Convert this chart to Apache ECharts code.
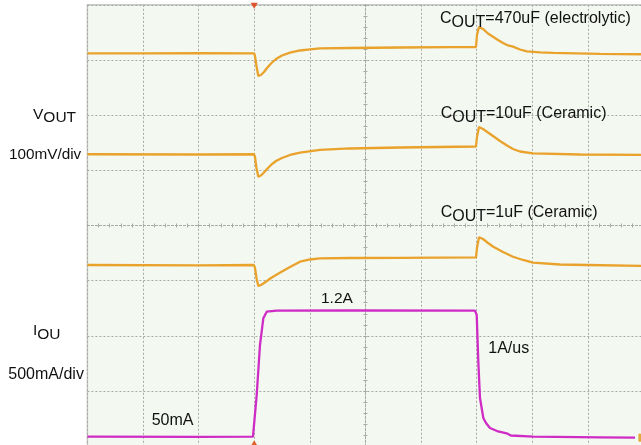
<!DOCTYPE html>
<html><head><meta charset="utf-8">
<script src="https://cdn.jsdelivr.net/npm/echarts/dist/echarts.min.js"></script>
<style>html,body{margin:0;padding:0;background:#fff}#c{width:641px;height:445px}</style>
</head><body><div id="c"></div>
<script>
// Scope screen: time and amplitude in divisions, centre of screen = (0, 0)
const xRange = [-5, 5];
const yRange = [-4, 4];
const triggerTime = -2.0;

// VOUT, COUT = 470uF (electrolytic)
const t470 = [-5.0,-4.05,-2.98,-2.0,-1.986,-1.959,-1.926,-1.878,-1.824,-1.770,-1.698,-1.608,-1.500,-1.356,-1.176,-0.996,-0.817,-0.277,0.622,1.522,1.989,2.007,2.043,2.115,2.205,2.295,2.385,2.475,2.565,2.655,2.781,2.906,3.140,3.374,4.219,5.0];
const v470 = [3.121,3.118,3.123,3.121,3.072,2.891,2.710,2.728,2.782,2.855,2.936,3.018,3.081,3.132,3.172,3.194,3.212,3.217,3.226,3.232,3.235,3.453,3.598,3.562,3.480,3.422,3.362,3.308,3.263,3.241,3.190,3.154,3.136,3.127,3.112,3.103];

// VOUT, COUT = 10uF (Ceramic)
const t10 = [-5.0,-2.975,-2.004,-1.986,-1.959,-1.926,-1.878,-1.824,-1.770,-1.698,-1.608,-1.500,-1.356,-1.176,-0.817,-0.277,0.622,1.989,2.007,2.043,2.115,2.205,2.295,2.421,2.547,2.655,2.781,3.014,3.860,5.0];
const v10 = [1.291,1.287,1.291,1.242,1.042,0.885,0.906,0.961,1.024,1.097,1.169,1.223,1.278,1.320,1.369,1.396,1.414,1.432,1.604,1.785,1.749,1.686,1.622,1.532,1.450,1.387,1.341,1.309,1.287,1.278];

// VOUT, COUT = 1uF (Ceramic)
const t1 = [-5.0,-2.975,-2.004,-1.986,-1.959,-1.926,-1.878,-1.824,-1.770,-1.698,-1.608,-1.500,-1.356,-1.176,-0.996,-0.817,-0.277,0.622,1.989,2.007,2.043,2.115,2.205,2.300,2.475,2.655,2.835,3.014,3.500,3.986,5.0];
const v1 = [-0.716,-0.721,-0.716,-0.770,-0.952,-1.097,-1.079,-1.042,-1.006,-0.952,-0.897,-0.834,-0.752,-0.656,-0.616,-0.595,-0.589,-0.585,-0.576,-0.408,-0.214,-0.245,-0.317,-0.384,-0.480,-0.566,-0.625,-0.674,-0.707,-0.716,-0.734];

// IOUT, 50mA -> 1.2A -> 50mA
const tI = [-5.0,-2.975,-2.022,-2.004,-1.955,-1.896,-1.836,-1.775,-1.595,-0.277,1.971,2.002,2.031,2.061,2.121,2.169,2.241,2.367,2.541,2.615,3.020,4.219,4.849];
const vI = [-3.828,-3.830,-3.828,-3.797,-3.072,-2.166,-1.682,-1.562,-1.544,-1.541,-1.544,-1.622,-2.469,-3.127,-3.489,-3.580,-3.671,-3.725,-3.767,-3.806,-3.828,-3.839,-3.846];

const zip = (t, v) => t.map((x, i) => [x, v[i]]);

const ORANGE = '#e9a22c';
const MAGENTA = '#cf2cc6';
const GRIDC = '#a8aaa6';
const FONTNAME = '"Liberation Sans", Arial, Helvetica, sans-serif';

const chart = echarts.init(document.getElementById('c'), null, {renderer: 'canvas'});

function centerX(pos) {
  return {
    type: 'value', min: xRange[0], max: xRange[1], interval: 1, position: pos,
    axisLine: {show: true, onZero: true, onZeroAxisIndex: 0, lineStyle: {color: GRIDC, type: [2, 2], width: 1}},
    axisTick: {show: true, length: 2, lineStyle: {color: GRIDC}},
    minorTick: {show: true, splitNumber: 5, length: 2, lineStyle: {color: GRIDC}},
    axisLabel: {show: false},
    splitLine: {show: pos === 'bottom', lineStyle: {color: GRIDC, type: [2, 2], width: 1}},
    minorSplitLine: {show: false}
  };
}
function centerY(pos) {
  return {
    type: 'value', min: yRange[0], max: yRange[1], interval: 1, position: pos,
    axisLine: {show: true, onZero: true, onZeroAxisIndex: 0, lineStyle: {color: GRIDC, type: [2, 2], width: 1}},
    axisTick: {show: true, length: 2, lineStyle: {color: GRIDC}},
    minorTick: {show: true, splitNumber: 5, length: 2, lineStyle: {color: GRIDC}},
    axisLabel: {show: false},
    splitLine: {show: pos === 'left', lineStyle: {color: GRIDC, type: [2, 2], width: 1}},
    minorSplitLine: {show: false}
  };
}

function lineSeries(name, data, color) {
  return {
    name, type: 'line', data, xAxisIndex: 0, yAxisIndex: 0,
    showSymbol: false, symbol: 'none', smooth: false,
    lineStyle: {color, width: 2.3}, itemStyle: {color},
    animation: false, silent: true, z: 5
  };
}

const s470 = lineSeries('COUT=470uF', zip(t470, v470), ORANGE);
s470.markPoint = {
  silent: true, animation: false, label: {show: false},
  data: [
    {coord: [triggerTime, yRange[1]], symbol: 'triangle', symbolRotate: 180, symbolSize: [7, 6], symbolOffset: [0, 1], itemStyle: {color: '#e0522c'}},
    {coord: [triggerTime, yRange[0]], symbol: 'triangle', symbolSize: [7, 6], symbolOffset: [0, -3], itemStyle: {color: '#e0622c'}},
    {coord: [xRange[1], vI[vI.length - 1]], symbol: 'rect', symbolSize: [4, 8], symbolOffset: [-3, 0], itemStyle: {color: '#e2a83a'}}
  ]
};

// text measuring for subscript placement
const mctx = document.createElement('canvas').getContext('2d');
function textW(s, size) { mctx.font = size + 'px ' + FONTNAME; return mctx.measureText(s).width; }

function txt(x, y, text, size) {
  return {
    type: 'text', x, y, silent: true, z: 100,
    style: {text, fontSize: size, fontFamily: FONTNAME, fill: '#111', verticalAlign: 'middle', align: 'left'}
  };
}
// main text, subscript (shifted down), tail text
function subLabel(x, y, main, sub, tail, size, drop) {
  const els = [txt(x, y, main, size)];
  let cx = x + textW(main, size);
  els.push(txt(cx, y + drop, sub, size));
  cx += textW(sub, size);
  if (tail) els.push(txt(cx, y, tail, size));
  return els;
}

chart.setOption({
  backgroundColor: '#ffffff',
  animation: false,
  grid: {left: 87.4, top: 4.8, width: 556, height: 441.4, show: true,
         backgroundColor: '#f3f8f0', borderColor: '#c5c8c3', borderWidth: 1.5,
         containLabel: false, outerBoundsMode: 'none'},
  xAxis: [centerX('bottom'), centerX('top')],
  yAxis: [centerY('left'), centerY('right')],
  series: [
    s470,
    lineSeries('COUT=10uF', zip(t10, v10), ORANGE),
    lineSeries('COUT=1uF', zip(t1, v1), ORANGE),
    lineSeries('IOUT', zip(tI, vI), MAGENTA)
  ],
  graphic: [].concat(
    subLabel(440, 18.5, 'C', 'OUT', '=470uF (electrolytic)', 16, 4),
    subLabel(440.7, 114, 'C', 'OUT', '=10uF (Ceramic)', 16, 4),
    subLabel(440.7, 212.5, 'C', 'OUT', '=1uF (Ceramic)', 16, 4),
    subLabel(33, 114.3, 'V', 'OUT', '', 15.5, 3.8),
    [txt(9, 154.7, '100mV/div', 15.3)],
    subLabel(33, 331, 'I', 'OU', '', 15.5, 4),
    [txt(8.3, 374.5, '500mA/div', 16),
     txt(151.7, 421, '50mA', 16),
     txt(321, 299, '1.2A', 15.5),
     txt(488.3, 349, '1A/us', 16)]
  )
});
</script>
</body></html>
